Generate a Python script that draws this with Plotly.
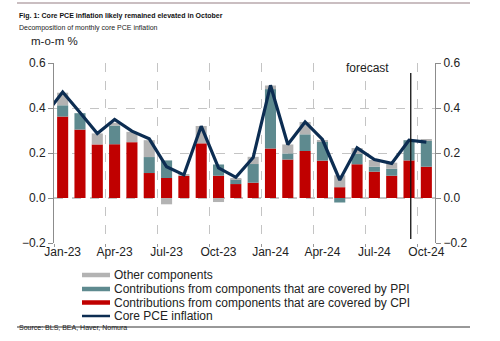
import plotly.graph_objects as go

# ---------------- data ----------------
months = ["Dec-22",
          "Jan-23", "Feb-23", "Mar-23", "Apr-23", "May-23", "Jun-23", "Jul-23", "Aug-23",
          "Sep-23", "Oct-23", "Nov-23", "Dec-23", "Jan-24", "Feb-24", "Mar-24", "Apr-24",
          "May-24", "Jun-24", "Jul-24", "Aug-24", "Sep-24", "Oct-24"]
cpi = [None,
       0.362, 0.304, 0.238, 0.239, 0.248, 0.111, 0.089, 0.098, 0.243, 0.099, 0.062, 0.068,
       0.220, 0.171, 0.209, 0.166, 0.048, 0.150, 0.117, 0.099, 0.167, 0.139]
ppi = [None,
       0.050, 0.073, 0.000, 0.083, 0.000, 0.071, 0.078, 0.000, 0.000, 0.050, 0.021, 0.083,
       0.264, 0.027, 0.074, 0.084, -0.020, 0.046, 0.022, 0.031, 0.090, 0.115]
other = [None,
         0.056, 0.000, 0.049, 0.012, 0.046, 0.075, -0.028, 0.006, 0.077, -0.018, 0.006, 0.032,
         0.016, 0.040, 0.055, 0.006, 0.053, 0.026, 0.030, 0.027, 0.000, 0.006]
core_pce = [0.37,
            0.471, 0.380, 0.287, 0.349, 0.297, 0.263, 0.139, 0.103, 0.319, 0.134, 0.092, 0.180,
            0.501, 0.238, 0.338, 0.260, 0.080, 0.223, 0.171, 0.154, 0.257, 0.248]
y_ticks = [-0.2, 0.0, 0.2, 0.4, 0.6]
forecast_month = "Sep-24"
legend_names = ["Other components",
                "Contributions from components that are covered by PPI",
                "Contributions from components that are covered by CPI",
                "Core PCE inflation"]

# ---------------- styling ----------------
RED = "#c00000"
TEAL = "#5e8a8f"
GRAY = "#b3b3b3"
NAVY = "#0c2d52"
FONT = "Arial, Liberation Sans, sans-serif"

W, H = 500, 341
L, R, T, B = 54, 435, 63, 243  # plot area in px


def px_x(px):
    return (px - L) / (R - L)


def px_y(py):
    return (B - py) / (B - T)


idx = list(range(len(months)))
label_idx = [i for i, m in enumerate(months) if m[:3] in ("Jan", "Apr", "Jul", "Oct") and i > 0]
label_txt = [months[i] for i in label_idx]
grid_x = [i - 0.5 for i in label_idx]
xr = [0.5, len(months) - 0.5]
yr = [y_ticks[0], y_ticks[-1]]

fig = go.Figure()
fig.add_bar(x=idx, y=cpi, marker_color=RED, marker_line_width=0, name=legend_names[2])
fig.add_bar(x=idx, y=ppi, marker_color=TEAL, marker_line_width=0, name=legend_names[1])
fig.add_bar(x=idx, y=other, marker_color=GRAY, marker_line_width=0, name=legend_names[0])
fig.add_scatter(x=idx, y=core_pce, mode="lines", line=dict(color=NAVY, width=3.2),
                name=legend_names[3])

# dummy trace for the overlay axes
fig.add_scatter(x=[None], y=[None], xaxis="x2", yaxis="y2", showlegend=False, hoverinfo="skip")

fig.update_layout(
    width=W, height=H,
    margin=dict(l=L, r=W - R, t=T, b=H - B),
    paper_bgcolor="white", plot_bgcolor="white",
    barmode="relative", bargap=0.36,
    showlegend=False,
    font=dict(family=FONT, size=12, color="#222"),
    xaxis=dict(range=xr, tickmode="array", tickvals=label_idx, ticktext=label_txt,
               showgrid=False, zeroline=False, showline=False, ticks="",
               tickfont=dict(size=12, color="#222")),
    xaxis2=dict(range=xr, overlaying="x", anchor="y", tickmode="array", tickvals=grid_x,
                showticklabels=False, showgrid=True, gridcolor="#c4c4c4", griddash="dash",
                gridwidth=1, ticks="outside", ticklen=3, tickcolor="#999",
                zeroline=False, showline=False),
    yaxis=dict(range=yr, tickmode="array", tickvals=y_ticks, tickformat=".1f",
               showgrid=True, gridcolor="#c4c4c4", griddash="dash", gridwidth=1,
               zeroline=False, showline=True, linecolor="#8c8c8c", linewidth=1,
               ticks="outside", ticklen=5, tickcolor="#8c8c8c",
               tickfont=dict(size=12, color="#222")),
    yaxis2=dict(range=yr, overlaying="y", side="right", anchor="x", tickmode="array",
                tickvals=y_ticks, tickformat=".1f", showgrid=False, zeroline=False,
                showline=True, linecolor="#8c8c8c", linewidth=1,
                ticks="outside", ticklen=5, tickcolor="#8c8c8c",
                tickfont=dict(size=12, color="#222")),
)

# zero line (darker dashed)
fig.add_shape(type="line", xref="paper", yref="y", x0=0, x1=1, y0=0, y1=0,
              line=dict(color="#8a8a8a", width=1, dash="dash"), layer="below")

# forecast divider
fx = months.index(forecast_month) + 0.1
fig.add_shape(type="line", xref="x", yref="y", x0=fx, x1=fx, y0=-0.182, y1=0.556,
              line=dict(color="#111", width=1.3))
fig.add_annotation(x=px_x(391), y=px_y(59), xref="paper", yref="paper", text="forecast",
                   showarrow=False, font=dict(size=12, color="#222"))

# axis unit
fig.add_annotation(x=px_x(30), y=px_y(41), xref="paper", yref="paper", text="m-o-m %",
                   showarrow=False, xanchor="left", yanchor="middle", borderpad=0,
                   font=dict(size=11.5, color="#222"))

# manual legend (compact rows like the original)
leg_rows = [275, 289, 302.5, 316]
leg_cols = [(GRAY, 4.5), (TEAL, 4.5), (RED, 4.5), (NAVY, 2.5)]
for yy, (col, th), name in zip(leg_rows, leg_cols, legend_names):
    fig.add_shape(type="rect", xref="paper", yref="paper",
                  x0=px_x(82), x1=px_x(110), y0=px_y(yy - th / 2), y1=px_y(yy + th / 2),
                  fillcolor=col, line=dict(width=0))
    fig.add_annotation(x=px_x(113), y=px_y(yy), xref="paper", yref="paper", text=name,
                       showarrow=False, xanchor="left", yanchor="middle",
                       font=dict(size=12, color="#222"), borderpad=0)

# title / subtitle / source
fig.add_annotation(x=px_x(17), y=px_y(10), xref="paper", yref="paper",
                   text="<b>Fig. 1: Core PCE inflation likely remained elevated in October</b>",
                   showarrow=False, xanchor="left", font=dict(size=7, color="#111"))
fig.add_annotation(x=px_x(17), y=px_y(22), xref="paper", yref="paper",
                   text="Decomposition of monthly core PCE inflation",
                   showarrow=False, xanchor="left", font=dict(size=7, color="#222"))
fig.add_annotation(x=px_x(17), y=px_y(333), xref="paper", yref="paper",
                   text="Source: BLS, BEA, Haver, Nomura",
                   showarrow=False, xanchor="left", font=dict(size=7, color="#222"))

# decorative rules
fig.add_shape(type="line", xref="paper", yref="paper", x0=px_x(17), x1=px_x(470),
              y0=px_y(3), y1=px_y(3), line=dict(color="#b9a9ad", width=1.5))
fig.add_shape(type="line", xref="paper", yref="paper", x0=px_x(17), x1=px_x(470),
              y0=px_y(327), y1=px_y(327), line=dict(color="#333", width=1))

fig.write_html("out.html")
